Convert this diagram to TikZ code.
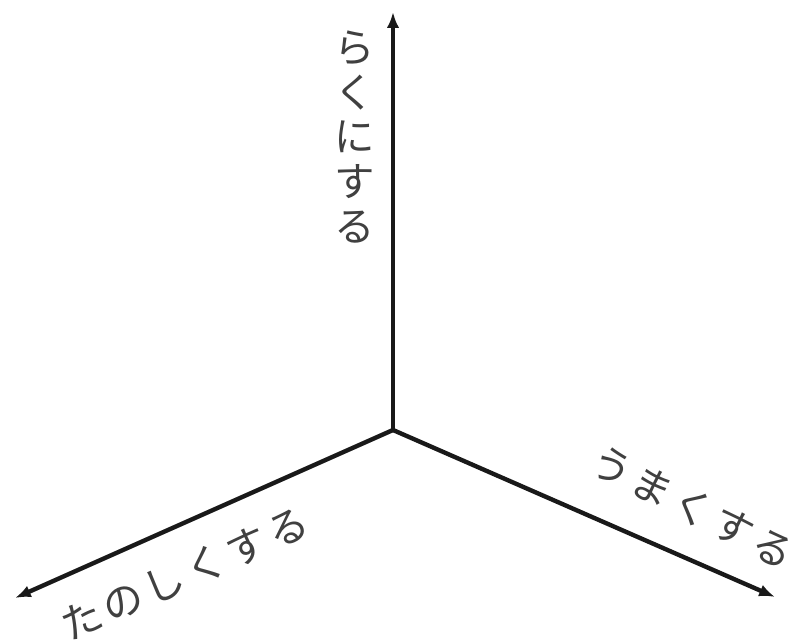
\documentclass[tikz,border=0pt]{standalone}
\usepackage{fontspec}
\newfontfamily\jpfont[LetterSpace=12]{Noto Sans CJK JP}
\newfontfamily\jpvert{Noto Sans CJK JP}
\usetikzlibrary{positioning, arrows.meta}
\tikzset{
    axis/.style={draw=black!90, line width=2.5pt, -{Latex[length=9pt,width=7pt]}},
    axislabel/.style={font=\jpfont\fontsize{23}{25}\selectfont, text=black!75, inner sep=0pt}
}
\begin{document}
\begin{tikzpicture}[x=0.02cm, y=-0.02cm]
\useasboundingbox (0,0) rectangle (797,641);

% Axes
\coordinate (origin) at (393, 430);
\coordinate (easy) at (393, 12);
\coordinate (fun) at (15, 598);
\coordinate (good) at (775, 597);
\draw[axis] (origin) -- (easy);
\draw[axis] (origin) -- (fun);
\draw[axis] (origin) -- (good);

% Labels
\node[axislabel, font=\jpvert\fontsize{23}{25.5}\selectfont, align=center] (l_easy) at (355, 137) {ら\\く\\に\\す\\る};
\node[axislabel, rotate=24] (l_fun) at (185, 574) {たのしくする};
\node[axislabel, rotate=-27] (l_good) at (693, 507) {うまくする};

\end{tikzpicture}
\end{document}
